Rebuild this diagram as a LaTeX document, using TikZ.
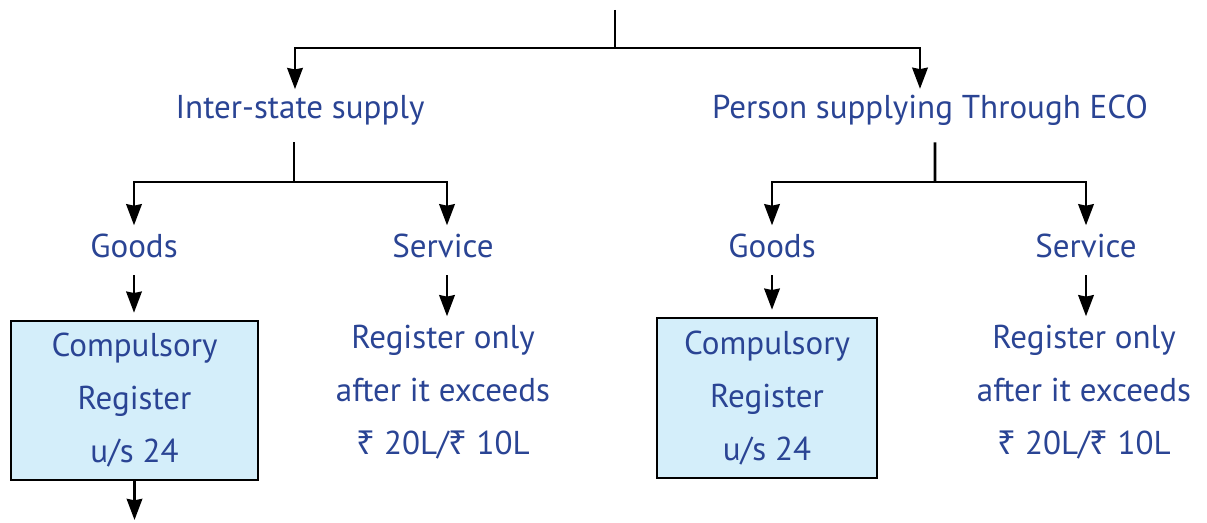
\documentclass[tikz,border=0pt]{standalone}
\usepackage{fontspec}
\setmainfont{PT Sans}
\newfontfamily\rupeefont{Noto Sans}
\usetikzlibrary{arrows.meta, positioning}
\definecolor{txtblue}{RGB}{42,68,148}
\definecolor{boxblue}{RGB}{212,238,250}
\newcommand{\rupee}{{\rupeefont ₹}}

\begin{document}
\begin{tikzpicture}[
  lbl/.style={text=txtblue, font=\fontsize{23.5}{37.7}\selectfont, align=center, inner sep=4pt},
  regbox/.style={lbl, rectangle, draw=black, line width=1.8pt, fill=boxblue},
  line/.style={line width=2pt, black},
  arr/.style={-{Stealth[length=15pt, width=11pt, inset=1pt]}, line width=2pt, black}
]
  \useasboundingbox (0,0) rectangle (30.175,13.05);
  \coordinate (root) at (15.375,12.8);
  \node[lbl] (inter) at (7.5,10.3)   {Inter-state supply};
  \node[lbl] (eco)   at (23.25,10.3) {Person supplying Through ECO};
  \node[lbl] (goodsA) at (3.35,6.9)  {Goods};
  \node[lbl] (servA)  at (11.075,6.9) {Service};
  \node[lbl] (goodsB) at (19.3,6.9) {Goods};
  \node[lbl] (servB)  at (27.15,6.9)  {Service};
  \node[regbox, minimum width=6.175cm, minimum height=3.975cm] (regA) at (3.3625,3.0375)
        {Compulsory\\Register\\u/s 24};
  \node[regbox, minimum width=5.5cm, minimum height=4cm] (regB) at (19.175,3.1)
        {Compulsory\\Register\\u/s 24};
  \node[lbl] (limA) at (11.075,3.25) {Register only\\after it exceeds\\\rupee{} 20L/\rupee{} 10L};
  \node[lbl] (limB) at (27.1,3.25)   {Register only\\after it exceeds\\\rupee{} 20L/\rupee{} 10L};
  \coordinate (regAout) at (3.3625,0.05);

  \draw[line] (root) -- ++(0,-0.95) coordinate (rootsplit);
  \draw[arr] (rootsplit) -| ([xshift=-0.125cm]inter.north);
  \draw[arr] (rootsplit) -| ([xshift=-0.25cm]eco.north);

  \draw[line] ([xshift=-0.15cm, yshift=-8pt]inter.south) -- (7.35,8.5) coordinate (splitA);
  \draw[arr] (splitA) -| ([yshift=2pt]goodsA.north);
  \draw[arr] (splitA) -| ([xshift=0.1cm, yshift=2pt]servA.north);

  \draw[line] ([xshift=0.125cm, yshift=-8pt]eco.south) -- (23.375,8.5) coordinate (splitB);
  \draw[arr] (splitB) -| ([yshift=2pt]goodsB.north);
  \draw[arr] (splitB) -| ([yshift=2pt]servB.north);

  \draw[arr] ([yshift=-8pt]goodsA.south) -- ([yshift=5pt]goodsA.south |- regA.north);
  \draw[arr] ([xshift=0.1cm, yshift=-8pt]servA.south) -- ([xshift=0.1cm, yshift=2pt]servA.south |- limA.north);
  \draw[arr] ([yshift=-8pt]goodsB.south) -- ([yshift=5pt]goodsB.south |- regB.north);
  \draw[arr] ([yshift=-8pt]servB.south) -- ([yshift=2pt]servB.south |- limB.north);
  \draw[arr] (regA) -- (regAout);
\end{tikzpicture}
\end{document}
